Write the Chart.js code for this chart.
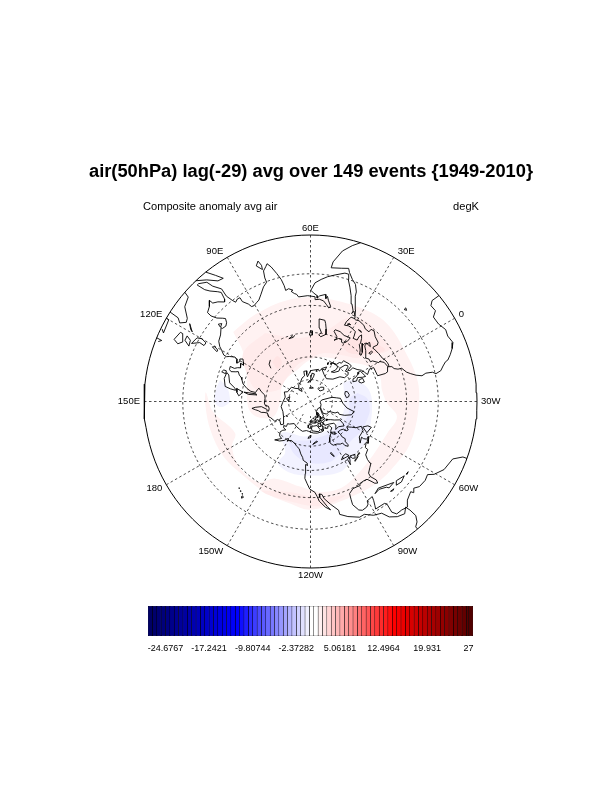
<!DOCTYPE html>
<html>
<head>
<meta charset="utf-8">
<title>air(50hPa) lag(-29)</title>
<script src="https://cdn.jsdelivr.net/npm/chart.js@4"></script>
<style>
  html, body { margin: 0; padding: 0; background: #fff; }
  #wrap { position: relative; width: 612px; height: 792px; overflow: hidden; }
  #mapBox { position: absolute; left: 0; top: 0; width: 612px; height: 792px; }
  #barBox { position: absolute; left: 0; top: 600px; width: 612px; height: 60px; }
</style>
</head>
<body>
<div id="wrap">
  <div id="mapBox"><canvas id="mapChart"></canvas></div>
  <div id="barBox"><canvas id="barChart"></canvas></div>
</div>
<script>
// texts
const titleText = "air(50hPa) lag(-29) avg over 149 events {1949-2010}";
const leftText = "Composite anomaly avg air";
const rightText = "degK";

// map grid
const gridLats = [15, 30, 45, 60, 75];
const gridLons = [60, 30, 0, -30, -60, -90, -120, -150, 180, 150, 120, 90];
const lonLabels = ["60E", "30E", "0", "30W", "60W", "90W", "120W", "150W", "180", "150E", "120E", "90E"];

// colorbar
const barLevels = [-27.65, -26.91, -26.16, -25.42, -24.68, -23.93, -23.19, -22.45, -21.70, -20.96,
  -20.22, -19.47, -18.73, -17.99, -17.24, -16.50, -15.76, -15.01, -14.27, -13.53,
  -12.78, -12.04, -11.30, -10.55, -9.81, -9.06, -8.32, -7.58, -6.83, -6.09,
  -5.35, -4.60, -3.86, -3.12, -2.37, -1.63, -0.89, -0.14, 0.60, 1.34,
  2.09, 2.83, 3.57, 4.32, 5.06, 5.81, 6.55, 7.29, 8.04, 8.78,
  9.52, 10.27, 11.01, 11.75, 12.50, 13.24, 13.98, 14.73, 15.47, 16.21,
  16.96, 17.70, 18.44, 19.19, 19.93, 20.67, 21.42, 22.16, 22.90, 23.65,
  24.39, 25.13, 25.88, 26.62, 27.00, 27.75];
const barTickValues = [-24.6767, -17.2421, -9.80744, -2.37282, 5.06181, 12.4964, 19.931, 27];
const barTickLabels = ["-24.6767", "-17.2421", "-9.80744", "-2.37282", "5.06181", "12.4964", "19.931", "27"];

// anomaly contours, [lon, lat]
const pinkBand = [[108,26],[92,26.5],[73,26],[55,26],[32,25],[16,23.5],[-3,24.5],[-20,23.5],[-36,24],[-53,24],
  [-66,25],[-81,25.5],[-102,26],[-120,24],[-131,26],[-145,27],[-162,28],[-178,26.5],[166,26],[153,25.5],[145,25.5],
  [156,29],[172.6,37.7],[-179.9,32.8],[-166.7,29.5],[-153,30],[-144.6,36],[-127,35.5],[-114,32.7],[-99,32.5],
  [-77.4,36.7],[-52.4,37],[-40,34.4],[-31,40.7],[-21,43],[-10.6,42.3],[0,45],[17.3,54],[44.3,59],[61,62],
  [83,66.7],[116,67.5],[153,69],[172.5,62.7],[166,53],[155,48.8],[129,45.5],[114,37]];
const pinkEurasia = [[93.6,37.5],[69.4,47.7],[47,42.5],[36.4,32.7],[24.6,29.2],[14.6,30.7],[4,30],[3.8,34.8],[9.2,40.7],
  [13,48],[25,52.5],[45.5,56.6],[60,60.5],[80,63.7],[110,67.5],[130.5,66.8],[138,53.7],[126,44.6],[114,37]];
const pinkPacific = [[-149.7,27],[-132.8,31.7],[-114.4,29.5],[-99.7,28],[-114.8,25.5],[-131.5,27],[-144.4,26.8]];
const pinkEurope = [[32.4,48],[25,40.3],[14,35.6],[4.7,32.9],[9.6,41.8],[21,49]];
const pinkBaikal = [[104,53.4],[96,52.6],[96,57.4],[105,59]];
const blueCanada = [[-0.3,64.5],[-3.2,58],[-15.6,51.5],[-28.6,49.5],[-53,47.5],[-67.3,45.2],[-83,44],[-97.3,40.7],[-120,42],
  [-136,42],[-147.9,44.6],[-146.3,52],[-153.5,56.7],[-162,59.6],[-160,63],[-128.8,66],[-85.6,67],[-52.6,66.5],[-27.5,67]];
const blueCore = [[-19.6,58],[-26.5,52.5],[-38,50.4],[-48,50.7],[-59,51],[-75.7,52.5],[-90,50.7],[-102,48.3],[-120,49.4],
  [-136,53],[-146.8,59.5],[-120,64],[-79.3,64.3],[-49.8,63],[-25,63.1]];
const blueJapan = [[136.6,31.6],[140,36],[149,38.4],[151.7,37.3],[153.5,32.8],[150,30.2],[143,30.4]];

// coastlines, [lon, lat]
const africa = [[9.5,0],[9.7,3],[8.5,4.5],[6,4.3],[4.5,6.3],[1.2,6.1],[-2,4.8],[-4.5,5.2],[-7.5,4.4],[-9.5,5.5],[-11.5,7],[-13.2,8.5],[-13.6,9.6],[-15,11],[-16.7,12.4],[-17.5,14.7],[-16.5,16],[-16.2,19],[-17,21],[-16,23.7],[-14.5,26],[-13,27.8],[-10,29.5],[-9.7,31.5],[-8.5,33.3],[-6.8,34],[-5.9,35.8],[-5,35.2],[-3,35.3],[-1,35.7],[1,36.5],[5,36.8],[9.8,37.3],[11,37],[10.2,34.5],[11.2,33.3],[15,32.4],[18,30.6],[20,31],[20,32.7],[23,32.7],[25,31.6],[29,31],[31,31.5],[32.3,31.2],[32.5,29.9],[33.8,27],[35.5,24],[37,21],[37.3,19],[39,16],[41,14.5],[43.2,12],[44,10.5],[47,11.2],[51.2,11.8],[50.8,9.3],[48,4.5],[45,1.8],[42.5,0]];
const eurasia = [[32.5,29.9],[34.3,27.9],[34.9,29.5],[34.8,28],[37,25],[39,21.5],[41,18],[42.8,15],[43.3,12.8],[45,12.8],[49,14.5],[52.2,15.8],[55,17.3],[57.8,19],[59.8,22.5],[58.5,23.7],[56.4,25],[56.3,26.2],[55,25],[52,24],[51.5,26],[50.8,24.8],[50,26.6],[48,29.5],[49,30.4],[50.8,28.8],[52.6,27.3],[55,26.7],[57,27],[57.5,25.6],[61.5,25.1],[66.5,25.4],[67.4,24],[68.5,23.5],[70,22.2],[69,21.8],[71,20.8],[72.6,21.3],[72.8,19],[73.5,16],[74.8,13],[76.3,9.8],[77.5,8.1],[78.3,9],[79.8,10.4],[80.3,13.3],[80.2,15.3],[82.3,16.7],[85,19.5],[87,21.3],[88.5,21.8],[90.5,22.5],[91.8,22.3],[92.5,20.5],[94.3,18],[94.2,16],[95.5,15.8],[97,16.5],[97.7,15],[98.6,12],[98.3,8.5],[100.3,5.5],[101,3],[103.5,1.4],[104.2,1.4],[103.4,4.5],[102.3,6.2],[100.2,8.4],[99.3,9.5],[100,12.5],[100.8,13.4],[102.9,11.5],[104.8,10.4],[105,8.7],[106.8,10.4],[109.2,11.5],[109.3,13.5],[108.3,16],[106.5,18],[105.7,19],[106.8,20.7],[108.3,21.5],[110.3,21],[110.5,20.3],[113.5,22.2],[116.7,23.2],[118.8,25],[120,26.7],[121.8,28.8],[121.9,30.5],[121,31.7],[119.5,34.5],[120.3,36],[122.5,37],[120.8,37.8],[119,37.3],[117.8,38.8],[119.5,39.8],[121.6,40.8],[121.3,39],[124.3,40],[125.1,38.5],[126.5,37],[126.4,34.5],[128.5,34.8],[129.4,36],[128.3,38.5],[127.5,39.7],[129.7,41],[130.7,42.3],[132.3,43.2],[135.3,44.5],[138.5,47.5],[140.3,50],[140.7,53],[137.5,53.8],[135.5,54.6],[138.5,56.3],[142,59],[146,59.4],[152,59],[155,59.5],[156.5,61.5],[160,61.7],[163,61],[160,60],[156,57],[156,53],[156.7,51],[158.5,53],[160,54.7],[162.5,56.3],[163.2,58],[165,60],[170,60],[172,61],[179,62.5],[178.5,64.5],[-178,65.5],[-172,64.5],[-170,66],[-175,67.5],[-180,69],[170,70],[160,69.7],[152,71],[140,72.5],[130,71],[127,73],[113,73.7],[110,76],[104,77.7],[95,76],[87,75],[80,73],[73,72],[72.5,69],[67,69],[68,71.5],[67,73],[60,69],[54,68.5],[46,67.5],[44,68.5],[40,66],[35,64.2],[35,66.5],[41,66.5],[33,69.5],[25,71],[15,68.5],[10,64],[5,62],[5.5,59],[8,58],[11,59],[12.5,56],[14,55.5],[16.5,56.5],[18.5,60],[17,62],[21,64.7],[25,65.5],[21.5,63],[21.5,61],[23,60],[30,60],[25,59.5],[23.5,57.5],[21,57],[21,55],[18,54.7],[14,54],[11,54],[10,57.5],[8.2,56.5],[8.5,54],[4.5,52.5],[1.5,50.5],[-1.5,49.5],[-4.7,48.5],[-1.2,46],[-1.8,43.4],[-9,43.3],[-9.5,38.7],[-8.8,37],[-6,36.2],[-5.4,36.1],[-2,36.8],[0,38.7],[-0.3,39.5],[3.2,42],[3.5,43.3],[6,43.1],[8.5,44.4],[10.5,43],[12.5,41.4],[15.7,40],[16,38],[17,39],[16.9,40.3],[18.4,40],[16,41.8],[13.5,43.6],[12.4,45.3],[13.7,45.6],[16,43.5],[19.4,41.5],[19.4,40.4],[21,38],[22.5,36.5],[23.2,38],[22.8,40.3],[26,40.8],[26.3,39.5],[27.3,37],[30.5,36.3],[33.5,36.1],[36,36.7],[35.8,34.5],[34.8,32.5],[34.3,31.3],[32.3,31.2]];
const americaEast = [[-168,65.6],[-164,66.5],[-166,68.3],[-163,69],[-156.5,71.3],[-150,70.5],[-141,69.6],[-135,69],[-128,70],[-124,69.7],[-115,68.5],[-108,68],[-100,68],[-96,68.2],[-94,71.5],[-92,69.5],[-88,68.5],[-85,69.5],[-82,69],[-81,67],[-85,66],[-87,64.5],[-92,62.5],[-94.5,60],[-94.5,58.8],[-92.5,57],[-88,56.5],[-85,55.3],[-82.3,55],[-82,52.9],[-80,51.3],[-79,52],[-79,54.5],[-77,56],[-78.3,58.5],[-77.5,60],[-78,62.4],[-73,62],[-70,61],[-69.5,59],[-67,58.3],[-65,60.3],[-62,57.5],[-60,55],[-56,52.5],[-59,50.3],[-66,50.2],[-70,47.5],[-65,49],[-65,47.5],[-64,46],[-61,45.5],[-66,43.7],[-66,45],[-70,43.5],[-70,41.7],[-74,40.5],[-75.5,38],[-76,35.5],[-75.5,35.2],[-78,33.9],[-81,32],[-81.4,30],[-80,26.8],[-80.5,25.2],[-81.8,26],[-82.8,28],[-84,30],[-86,30.3],[-89,30.2],[-89.5,29.2],[-91.5,29.5],[-94,29.6],[-97,28],[-97.5,25],[-97.8,22.4],[-96,19],[-94.5,18.2],[-92,18.6],[-90.7,19.5],[-90.3,21],[-87,21.5],[-87.5,19.5],[-88.2,17.5],[-88.8,15.9],[-84,15.8],[-83.3,14.9],[-83.7,11],[-82.5,9.2],[-80,9.2],[-77.5,8.6],[-75.5,10.6],[-72,12],[-71.5,10.9],[-70,12],[-68,10.6],[-64.5,10.2],[-62,10.7],[-60.5,8.5],[-57,6],[-52,4.7],[-50,1.5],[-50,0]];
const americaWest = [[-80,0],[-80,1],[-78.5,2],[-77.3,4],[-77.5,7],[-78,9],[-80,7.3],[-83,8.2],[-85.7,10],[-87.5,13],[-91,14],[-94.5,16.2],[-97,15.9],[-102,18],[-105.5,20],[-105.5,22],[-109,25.7],[-112,29],[-113,31.3],[-114.7,31.7],[-114.5,30],[-111,25],[-109.5,23],[-112,24.7],[-115,28],[-116,30.5],[-117.2,32.7],[-120.5,34.5],[-122.5,37.7],[-124.2,40.3],[-124.2,43],[-124,46.5],[-124.7,48.4],[-122.5,48],[-123,49.3],[-127,50.8],[-128,52.5],[-130.5,54.5],[-133.5,57.5],[-137,58.5],[-140,59.7],[-146,60.8],[-151,59.3],[-150,61],[-152,60.5],[-154,58.5],[-158,56.5],[-163,55],[-158,58.5],[-162,59],[-165,61],[-164,63],[-161,64.5],[-166,64.6],[-168,65.6]];
const greenland = [[-73,78.2],[-66,81],[-60,82],[-45,82.5],[-32,83.5],[-22,82],[-20,78.5],[-19,75],[-22,72],[-24,69.5],[-33,68],[-40,65],[-43,60],[-48,61],[-52,65],[-54,68.5],[-51,70],[-55,71.5],[-58,75.5],[-68,76],[-73,78.2]];
const baffin = [[-80,73.7],[-72,71.5],[-68,69.5],[-62,66.5],[-64,63.5],[-66,62],[-72,64.5],[-78,64.5],[-73,66.5],[-73,68.3],[-80,70],[-89,71],[-89,73.5],[-80,73.7]];
const victoria = [[-117,70],[-105,68.7],[-101,69.7],[-105,73],[-114,73],[-118,72],[-117,70]];
const banks = [[-125,72],[-120,71.5],[-116,73.5],[-119,74.5],[-124,74],[-125,72]];
const ellesmere = [[-90,76.5],[-78,76.5],[-75,79],[-62,82.3],[-75,83],[-90,82],[-92,79.5],[-87,78],[-90,76.5]];
const devon = [[-92,74.7],[-80,74.7],[-80,75.7],[-92,76.5],[-92,74.7]];
const melville = [[-117,75.2],[-106,75],[-106,76.3],[-115,76.5],[-117,75.2]];
const axelHeiberg = [[-95,79.5],[-87,79],[-86,80.7],[-92,81.3],[-95,79.5]];
const princeWales = [[-102,72],[-97,71.5],[-97,74],[-102,74],[-102,72]];
const somerset = [[-95.5,72],[-90.5,72],[-90.5,74],[-95.5,74],[-95.5,72]];
const bathurst = [[-104,75],[-98,75],[-98,76.5],[-104,76.5],[-104,75]];
const cornwallis = [[-96,75],[-93,75],[-93,75.8],[-96,75.8],[-96,75]];
const kingWilliam = [[-99,69],[-95,68.5],[-95,69.7],[-99,69.5],[-99,69]];
const princePatrick = [[-122,76],[-117,76],[-116,77.5],[-120,77],[-122,76]];
const ellefRingnes = [[-104,78],[-99,78],[-100,79.5],[-104,79],[-104,78]];
const amundRingnes = [[-96,78],[-93,78],[-94,79],[-96,78]];
const lougheed = [[-107,77],[-103,77.2],[-105,77.8],[-107,77]];
const borden = [[-112,78],[-110,78],[-110,78.7],[-112,78]];
const bylot = [[-80,73],[-76,72.8],[-77,73.7],[-80,73]];
const coats = [[-84,62.5],[-81,62.2],[-82,63],[-84,62.5]];
const southampton = [[-87,65],[-81,63.5],[-85,63],[-87,65]];
const newfoundland = [[-59,47.7],[-53,46.7],[-53,49],[-56,51.5],[-59,47.7]];
const iceland = [[-24,65.5],[-18,66.2],[-14,65.5],[-15,64.2],[-20,63.4],[-23,64],[-24,65.5]];
const britain = [[-5.5,50],[1,51.3],[1.6,52.8],[0,53.5],[-2,56],[-2,57.7],[-5,58.6],[-6,56.3],[-3,54.8],[-5,52],[-5.5,50]];
const ireland = [[-10,52],[-6,52.2],[-6,54.5],[-8,55.2],[-10,54],[-10,52]];
const honshu = [[130.9,34],[135,33.6],[140,35],[141,38],[141.5,41],[140,40.5],[137,37],[132,35.4],[130.9,34]];
const hokkaido = [[140,41.5],[143,42],[145.5,43.3],[142,45.4],[140,41.5]];
const kyushu = [[130,32],[131.5,31.3],[131.9,33.5],[130,33.5],[130,32]];
const sakhalin = [[142,46],[143.5,49],[143,54],[142,53.5],[142,46]];
const taiwan = [[120.2,23],[120.9,22],[122,25],[121,25],[120.2,23]];
const hainan = [[108.7,19.3],[110.5,20],[110,18.3],[108.7,19.3]];
const luzon = [[120,16],[120.7,18.5],[122.3,18.3],[122,16],[124,13],[120.7,14],[120,16]];
const mindanao = [[122,7],[125.5,6],[126.5,8],[125,9.5],[122,8],[122,7]];
const visayas = [[122,10],[124,10],[125.5,12.5],[123,12],[122,10]];
const palawan = [[117.2,8.4],[119.5,11],[119,10],[117.2,8.4]];
const borneo = [[109,0],[109.5,2],[113,3.2],[116,6.5],[117.5,7],[119,5],[117.7,3.5],[117.5,0]];
const sumatra = [[99,0],[97,3],[95.3,5.6],[97.5,5.2],[100.5,2.3],[103.5,0]];
const sulawesi = [[120,0],[120,1],[125,1.5],[124,0.5]];
const halmahera = [[127.5,0],[127.7,2],[128.5,1]];
const sriLanka = [[80,9.7],[81.8,7.5],[80.5,6],[79.8,8],[80,9.7]];
const sicily = [[12.5,38],[15.6,38.2],[15,36.7],[12.5,38]];
const sardinia = [[8.3,41],[9.7,41],[9.5,39.2],[8.5,39],[8.3,41]];
const crete = [[23.6,35.5],[26.3,35.2],[24.5,35],[23.6,35.5]];
const cyprus = [[32.4,35],[34.5,35.6],[33.5,34.7],[32.4,35]];
const cuba = [[-85,21.9],[-82,23.1],[-76.5,21.2],[-74.2,20.2],[-77.7,19.9],[-78.5,21],[-82,22.4],[-85,21.9]];
const hispaniola = [[-74.3,18.5],[-72.7,19.9],[-68.4,18.6],[-71.5,17.8],[-74.3,18.5]];
const jamaica = [[-78.3,18.3],[-76.3,18.1],[-77.5,17.8],[-78.3,18.3]];
const puertoRico = [[-67.2,18.4],[-65.7,18.3],[-67,18],[-67.2,18.4]];
const hawaii = [[-155.7,20.2],[-155,19.7],[-155.6,19],[-156,19.7],[-155.7,20.2]];
const maui = [[-156.7,21],[-156,20.8],[-156.4,20.6],[-156.7,21]];
const oahu = [[-158.2,21.5],[-157.8,21.6],[-157.7,21.3],[-158.2,21.5]];
const kauai = [[-159.7,22.1],[-159.3,22.2],[-159.4,21.9],[-159.7,22.1]];
const svalbard = [[12,78],[17,76.7],[25,78],[27,80],[18,80.3],[12,78]];
const novayaZemlya = [[52,71],[57,70.7],[60,75],[68,76.8],[60,76.3],[53,73],[52,71]];
const severnaya = [[95,79],[105,78.5],[100,81],[95,79]];
const newSiberia = [[137,75.5],[150,75],[143,73.5],[137,75.5]];
const wrangel = [[-180,71],[-178,71.5],[-177.5,71],[-180,71]];
const kolguev = [[48,69],[50,69],[49,68.5],[48,69]];
const franzJosef = [[48,80.5],[60,81],[65,80.7],[55,80],[48,80.5]];
const caspian = [[47,45],[51,47],[53,46],[51,44.5],[53,42],[53.8,39],[54,37],[50,37.3],[49,39],[47.8,42],[47,45]];
const aral = [[58.5,46.5],[61,46.5],[60,44],[58.5,44],[58.5,46.5]];
const blackSea = [[28,41.5],[28.5,44],[30.8,46.3],[33,46],[33.5,44.5],[36,45],[39,47],[37.5,45.5],[38,44.3],[41.5,42],[41,41],[37,41],[33,42],[28,41.5]];
const balkhash = [[73.5,45.5],[75,46.5],[79,46.5],[75,45.5]];
const baikal = [[104,51.7],[108,53],[110,55.5]];
const ladoga = [[30,60],[32,60.5],[31,61.5],[30,60]];
const onega = [[35,61],[36,61.5],[35,62.5],[35,61]];
const chad = [[13.5,13],[14.5,13.5],[14.5,12.5],[13.5,13]];
const superior = [[-92,46.8],[-84.5,46.5],[-86,48.5],[-89,48.3],[-92,46.8]];
const michigan = [[-87.5,41.7],[-86,44],[-85,46],[-87.5,45],[-87.5,41.7]];
const huron = [[-84,46],[-80,45],[-81.7,43.2],[-83.5,44],[-84,46]];
const erie = [[-83.3,41.7],[-79,42.8],[-80,42.9],[-83,42.3],[-83.3,41.7]];
const ontario = [[-79.7,43.3],[-76.3,43.5],[-76.5,44.2],[-79.7,43.3]];
const winnipeg = [[-97,50.5],[-96.5,50.5],[-98,53.5],[-99,53],[-97,50.5]];
const greatSlave = [[-117,61],[-110,62.5],[-111,62.9],[-115,62],[-117,61]];
const greatBear = [[-124,65],[-120,65.5],[-119,67],[-122,66.5],[-124,65]];

const landLines = [africa, eurasia, americaEast, americaWest, greenland, baffin, victoria, banks, ellesmere, devon,
  melville, axelHeiberg, princeWales, somerset, bathurst, cornwallis, kingWilliam, princePatrick, ellefRingnes,
  amundRingnes, lougheed, borden, bylot, coats, southampton, newfoundland, iceland, britain, ireland, honshu, hokkaido,
  kyushu, sakhalin, taiwan, hainan, luzon, mindanao, visayas, palawan, borneo, sumatra, sulawesi, halmahera, sriLanka,
  sicily, sardinia, crete, cyprus, cuba, hispaniola, jamaica, puertoRico, hawaii, maui, oahu, kauai, svalbard,
  novayaZemlya, severnaya, newSiberia, wrangel, kolguev, franzJosef, caspian, aral, blackSea, balkhash, baikal, ladoga,
  onega, chad, superior, michigan, huron, erie, ontario, winnipeg, greatSlave, greatBear];

// polar stereographic, equator = 1
function project(lon, lat) {
  const r = Math.tan((90 - lat) / 2 * Math.PI / 180);
  const a = (60 - lon) * Math.PI / 180;
  return { x: r * Math.sin(a), y: r * Math.cos(a) };
}
const toPoints = (pairs) => pairs.map((p) => project(p[0], p[1]));
const closed = (pairs) => toPoints(pairs.concat([pairs[0]]));

function shade(pairs, color) {
  return { data: closed(pairs), showLine: true, fill: 'shape', backgroundColor: color, borderColor: color,
    borderWidth: 0, pointRadius: 0, tension: 0.35 };
}
function stroke(points, color, width, dash) {
  return { data: points, showLine: true, fill: false, borderColor: color, borderWidth: width,
    borderDash: dash || [], pointRadius: 0 };
}
function ring(lat) {
  const pts = [];
  for (let lon = 0; lon <= 360; lon += 3) pts.push(project(lon, lat));
  return pts;
}

const mapSets = [
  shade(pinkBand, '#fff2f2'),
  shade(pinkEurasia, '#ffebeb'),
  shade(pinkPacific, '#ffebeb'),
  shade(pinkEurope, '#ffe4e4'),
  shade(pinkBaikal, '#ffe4e4'),
  shade(blueCanada, '#f2f2ff'),
  shade(blueCore, '#e8e8ff'),
  shade(blueJapan, '#f2f2ff'),
];
landLines.forEach((line) => mapSets.push(stroke(toPoints(line), '#000', 0.9)));
gridLats.forEach((lat) => mapSets.push(stroke(ring(lat), '#000', 0.7, [2.5, 2.5])));
gridLons.forEach((lon) => {
  const end = lon % 90 === 0 ? 90 : 80;
  mapSets.push(stroke(toPoints([[lon, 0], [lon, end]]), '#000', 0.7, [2.5, 2.5]));
});
mapSets.push(stroke(ring(0), '#000', 1));
// Chart.js paints the first dataset last
mapSets.reverse();

const mapText = {
  id: 'mapText',
  afterDraw(chart) {
    const ctx = chart.ctx;
    const sx = chart.scales.x, sy = chart.scales.y;
    ctx.save();
    ctx.fillStyle = '#000';
    ctx.textBaseline = 'middle';

    ctx.font = 'bold 18.3px "Liberation Sans"';
    ctx.textAlign = 'center';
    ctx.fillText(titleText, 311, 172);

    ctx.font = '11.1px "Liberation Sans"';
    ctx.textAlign = 'left';
    ctx.fillText(leftText, 143, 207);
    ctx.textAlign = 'right';
    ctx.fillText(rightText, 479, 207);

    ctx.font = '9.5px "Liberation Sans"';
    ctx.textAlign = 'center';
    gridLons.forEach((lon, i) => {
      const p = project(lon, 0);
      const w = ctx.measureText(lonLabels[i]).width;
      const side = Math.abs(p.x) < 0.1 ? 0 : Math.sign(p.x);
      ctx.fillText(lonLabels[i], sx.getPixelForValue(p.x) + side * (w / 2 + 4), sy.getPixelForValue(p.y) - p.y * 7);
    });
    ctx.restore();
  }
};

new Chart(document.getElementById('mapChart'), {
  type: 'scatter',
  data: { datasets: mapSets },
  plugins: [mapText],
  options: {
    responsive: true,
    maintainAspectRatio: false,
    animation: false,
    layout: { padding: 0 },
    plugins: { legend: { display: false }, tooltip: { enabled: false } },
    scales: {
      x: { type: 'linear', display: false, min: -310.5 / 166.5, max: 301.5 / 166.5 },
      y: { type: 'linear', display: false, min: -390.5 / 166.5, max: 401.5 / 166.5 },
    },
  },
});

// blue - white - red box colours
function boxColor(i) {
  const stops = [[0, [0, 0, 100]], [20, [0, 0, 255]], [37, [255, 255, 255]], [38, [255, 255, 255]],
    [56, [255, 0, 0]], [74, [80, 0, 0]]];
  for (let s = 1; s < stops.length; s++) {
    if (i <= stops[s][0]) {
      const t = (i - stops[s - 1][0]) / (stops[s][0] - stops[s - 1][0]);
      const c = stops[s - 1][1].map((v, k) => Math.round(v + (stops[s][1][k] - v) * t));
      return `rgb(${c[0]},${c[1]},${c[2]})`;
    }
  }
  return 'rgb(80,0,0)';
}

const barSets = [];
for (let i = 0; i < barLevels.length - 1; i++) {
  barSets.push({
    data: [[barLevels[i], barLevels[i + 1]]],
    backgroundColor: boxColor(i),
    borderColor: '#000',
    borderWidth: 0.5,
    borderSkipped: false,
    barPercentage: 1,
    categoryPercentage: 1,
    grouped: false,
  });
}

new Chart(document.getElementById('barChart'), {
  type: 'bar',
  data: { labels: ['air'], datasets: barSets },
  options: {
    indexAxis: 'y',
    responsive: true,
    maintainAspectRatio: false,
    animation: false,
    layout: { padding: { left: 148, right: 139, top: 6, bottom: 0 } },
    plugins: { legend: { display: false }, tooltip: { enabled: false } },
    scales: {
      y: { display: false },
      x: {
        type: 'linear',
        min: barLevels[0],
        max: barLevels[barLevels.length - 1],
        grid: { display: false, drawTicks: false },
        border: { display: false },
        afterBuildTicks: (scale) => { scale.ticks = barTickValues.map((v) => ({ value: v })); },
        afterFit: (scale) => { scale.height = 24; },
        ticks: {
          autoSkip: false,
          maxRotation: 0,
          padding: 7,
          color: '#000',
          font: { family: 'Liberation Sans', size: 9 },
          callback: (v, i) => barTickLabels[i],
        },
      },
    },
  },
});
</script>
</body>
</html>
